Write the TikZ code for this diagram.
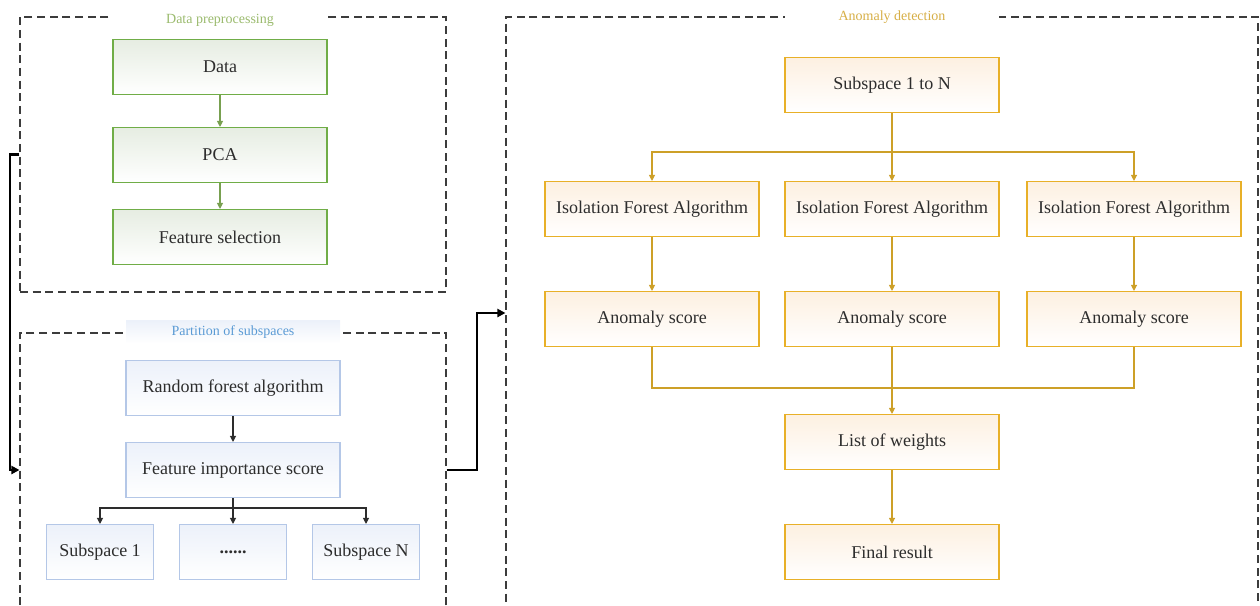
\documentclass[tikz,border=0pt]{standalone}
\usepackage{fontspec}
\setmainfont{Liberation Serif}
\usetikzlibrary{arrows.meta}
\definecolor{gborder}{RGB}{112,173,71}
\definecolor{gtop}{RGB}{230,237,226}
\definecolor{gline}{RGB}{120,160,80}
\definecolor{gtitle}{RGB}{155,187,110}
\definecolor{bborder}{RGB}{180,199,231}
\definecolor{btop}{RGB}{236,241,250}
\definecolor{btitle}{RGB}{91,155,213}
\definecolor{oborder}{RGB}{232,176,40}
\definecolor{otop}{RGB}{253,240,225}
\definecolor{oline}{RGB}{205,160,40}
\definecolor{otitle}{RGB}{215,175,70}
\definecolor{txt}{RGB}{45,45,45}
\definecolor{frameline}{RGB}{60,60,60}
\tikzset{
  base/.style={rectangle, inner sep=0pt, line width=0.8pt, minimum height=41.25pt, font=\fontsize{13.5}{15}\selectfont, text=txt},
  gbox/.style={base, draw=gborder, top color=gtop, bottom color=white, minimum width=160.5pt},
  bbox/.style={base, draw=bborder, top color=btop, bottom color=white, minimum width=160.5pt},
  sbox/.style={base, draw=bborder, top color=btop, bottom color=white, minimum width=80.25pt},
  obox/.style={base, draw=oborder, top color=otop, bottom color=white, minimum width=160.5pt},
  frame/.style={draw=frameline, line width=0.8pt, dash pattern=on 6pt off 3.5pt, rectangle, inner sep=0pt},
  ttl/.style={inner sep=0pt, font=\fontsize{10.5}{12}\selectfont, minimum width=160.5pt},
  garr/.style={draw=gline, line width=0.8pt, -{Triangle[length=4.5pt,width=4.5pt]}},
  barr/.style={draw=txt, line width=0.8pt, -{Triangle[length=4.5pt,width=4.5pt]}},
  oarr/.style={draw=oline, line width=0.8pt, -{Triangle[length=4.5pt,width=4.5pt]}},
  oln/.style={draw=oline, line width=0.8pt},
  bln/.style={draw=txt, line width=0.8pt},
  thick conn/.style={draw=black, line width=2pt, -{Triangle[length=6pt,width=6pt]}}
}
\begin{document}
\begin{tikzpicture}[x=0.75pt,y=-0.75pt]
\useasboundingbox (0,0) rectangle (1260,606);
% frames
\node[frame, minimum width=319.5pt, minimum height=206.25pt] (f1) at (233,154.5) {};
\node[frame, minimum width=319.5pt, minimum height=207.75pt] (f2) at (233,471.5) {};
\node[frame, minimum width=564pt, minimum height=444pt] (f3) at (882,313) {};
% titles
\node[ttl, fill=white, text=gtitle, minimum height=10pt] (t1) at (220,20) {Data preprocessing};
\node[ttl, top color=btop, bottom color=white, text=btitle, minimum height=17.25pt] (t2) at (233,332) {Partition of subspaces};
\node[ttl, fill=white, text=otitle, minimum height=10pt] (t3) at (892,17) {Anomaly detection};
% green
\node[gbox] (data) at (220,67) {Data};
\node[gbox] (pca) at (220,155) {PCA};
\node[gbox] (fs) at (220,237) {Feature selection};
\draw[garr] (data) -- (pca);
\draw[garr] (pca) -- (fs);
% blue
\node[bbox] (rf) at (233,388) {Random forest algorithm};
\node[bbox] (fi) at (233,470) {Feature importance score};
\node[sbox] (s1) at (100,552) {Subspace 1};
\node[sbox] (sd) at (233,552) {\textbf{......}};
\node[sbox] (sn) at (366,552) {Subspace N};
\draw[barr] (rf) -- (fi);
\coordinate (bj) at (233,508);
\draw[bln] (fi.south) -- (bj);
\draw[barr] (bj) -| (s1.north);
\draw[barr] (bj) -- (sd.north);
\draw[barr] (bj) -| (sn.north);
% orange
\node[obox] (sub) at (892,85) {Subspace 1 to N};
\node[obox] (i1) at (652,209) {Isolation Forest Algorithm};
\node[obox] (i2) at (892,209) {Isolation Forest Algorithm};
\node[obox] (i3) at (1134,209) {Isolation Forest Algorithm};
\node[obox] (a1) at (652,319) {Anomaly score};
\node[obox] (a2) at (892,319) {Anomaly score};
\node[obox] (a3) at (1134,319) {Anomaly score};
\node[obox] (lw) at (892,442) {List of weights};
\node[obox] (fr) at (892,552) {Final result};
\coordinate (oj) at (892,152);
\draw[oln] (sub.south) -- (oj);
\draw[oarr] (oj) -| (i1.north);
\draw[oarr] (oj) -- (i2.north);
\draw[oarr] (oj) -| (i3.north);
\draw[oarr] (i1) -- (a1);
\draw[oarr] (i2) -- (a2);
\draw[oarr] (i3) -- (a3);
\coordinate (mj) at (892,388);
\draw[oln] (a1.south) |- (mj);
\draw[oln] (a3.south) |- (mj);
\draw[oln] (a2.south) -- (mj);
\draw[oarr] (mj) -- (lw.north);
\draw[oarr] (lw) -- (fr);
% thick connectors
\coordinate (c1) at (10,154.5);
\coordinate (c2) at (10,470);
\draw[thick conn] (f1.west) -- (c1) -- (c2) -- (f2.west |- c2);
\coordinate (c3) at (477,470);
\coordinate (c4) at (477,313);
\draw[thick conn] (f2.east |- c3) -- (c3) -- (c4) -- (f3.west);
\end{tikzpicture}
\end{document}
